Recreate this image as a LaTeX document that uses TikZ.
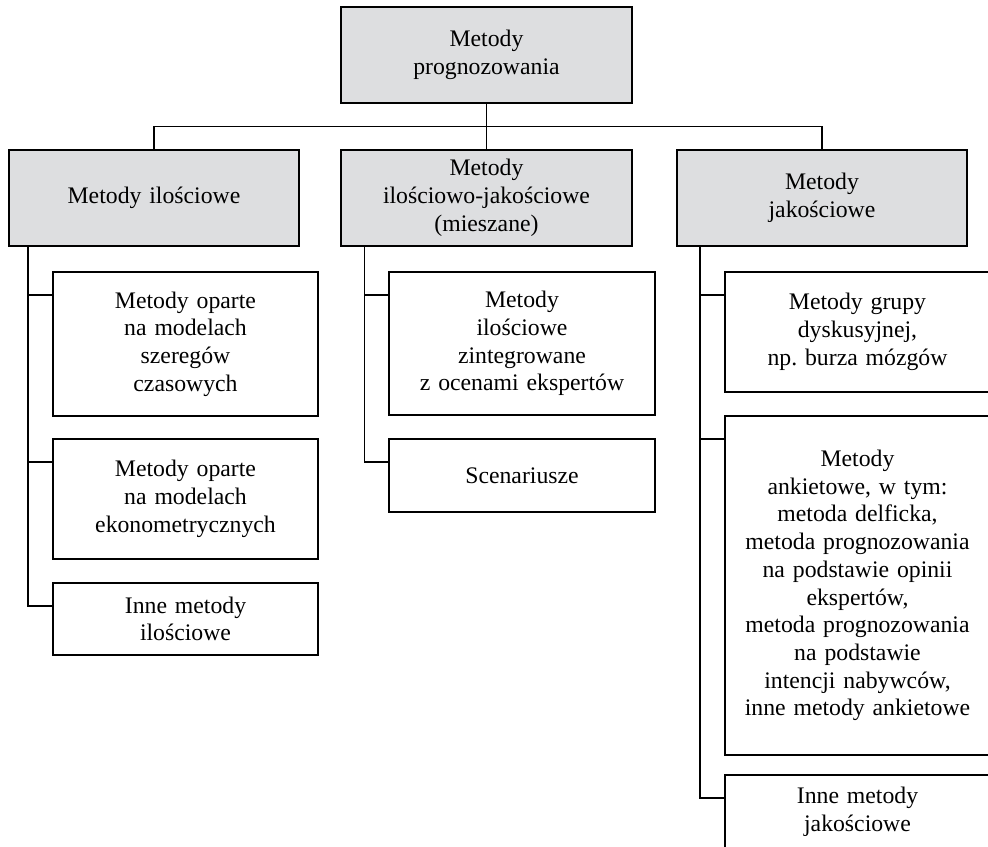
\documentclass[tikz,border=0pt]{standalone}
\usepackage{fontspec}
\setmainfont{Liberation Serif}
\usetikzlibrary{calc}
\definecolor{boxgray}{RGB}{221,222,224}
\tikzset{every picture/.style={line width=1.3pt}}

\begin{document}
\begin{tikzpicture}[x=0.75pt,y=0.75pt,yscale=-1,xscale=1,
	box/.style={draw,inner sep=0pt,align=center,font=\fontsize{17.8}{20.8}\selectfont},
	headbox/.style={box,fill=boxgray,text width=218pt,minimum height=71.5pt},
	leafbox/.style={box,text width=199pt}]
	\useasboundingbox (0,0) rectangle (988,846);
	
	%Main level
	\node [headbox] (top) at (486.5,55) {Metody\\prognozowania};
	\node [headbox] (ilo) at (154,198) {Metody ilościowe};
	\node [headbox] (mix) at (486.5,198) {Metody\\ilościowo-jakościowe\\(mieszane)\\[4pt]};
	\node [headbox] (jak) at (822,198) {Metody\\jakościowe};
	
	%Quantitative methods
	\node [leafbox,minimum height=108pt] (c1) at (185.5,344) {Metody oparte\\na modelach\\szeregów\\czasowych};
	\node [leafbox,minimum height=90pt] (c2) at (185.5,499) {Metody oparte\\na modelach\\ekonometrycznych};
	\node [leafbox,minimum height=54pt] (c3) at (185.5,619) {Inne metody\\ilościowe};
	
	%Mixed methods
	\node [leafbox,minimum height=107pt] (m1) at (522,343.5) {Metody\\ilościowe\\zintegrowane\\z ocenami ekspertów};
	\node [leafbox,minimum height=55pt] (m2) at (522,475.5) {Scenariusze};
	
	%Qualitative methods
	\node [leafbox,minimum height=90pt] (r1) at (857.5,332) {Metody grupy\\dyskusyjnej,\\np.\ burza mózgów};
	\node [leafbox,minimum height=254pt] (r2) at (857.5,585.5) {Metody\\ankietowe, w tym:\\metoda delficka,\\metoda prognozowania\\na podstawie opinii\\ekspertów,\\metoda prognozowania\\na podstawie\\intencji nabywców,\\inne metody ankietowe};
	\node [leafbox,minimum height=55pt] (r3) at (857.5,811.5) {Inne metody\\jakościowe};
	
	%Connectors
	\draw (top.south) -- (mix.north);
	\draw (ilo.north) -- ++(0,-23) -| (jak.north);
	
	\coordinate (sl) at ($(c1.north west)+(-24,0)$);
	\coordinate (sm) at ($(m1.north west)+(-24,0)$);
	\coordinate (sr) at ($(r1.north west)+(-24,0)$);
	\foreach \c in {c1,c2,c3}
		\draw (ilo.south -| sl) |- ($(\c.north west)+(0,24)$);
	\foreach \c in {m1,m2}
		\draw (mix.south -| sm) |- ($(\c.north west)+(0,24)$);
	\foreach \c in {r1,r2,r3}
		\draw (jak.south -| sr) |- ($(\c.north west)+(0,24)$);
	
\end{tikzpicture}
\end{document}
